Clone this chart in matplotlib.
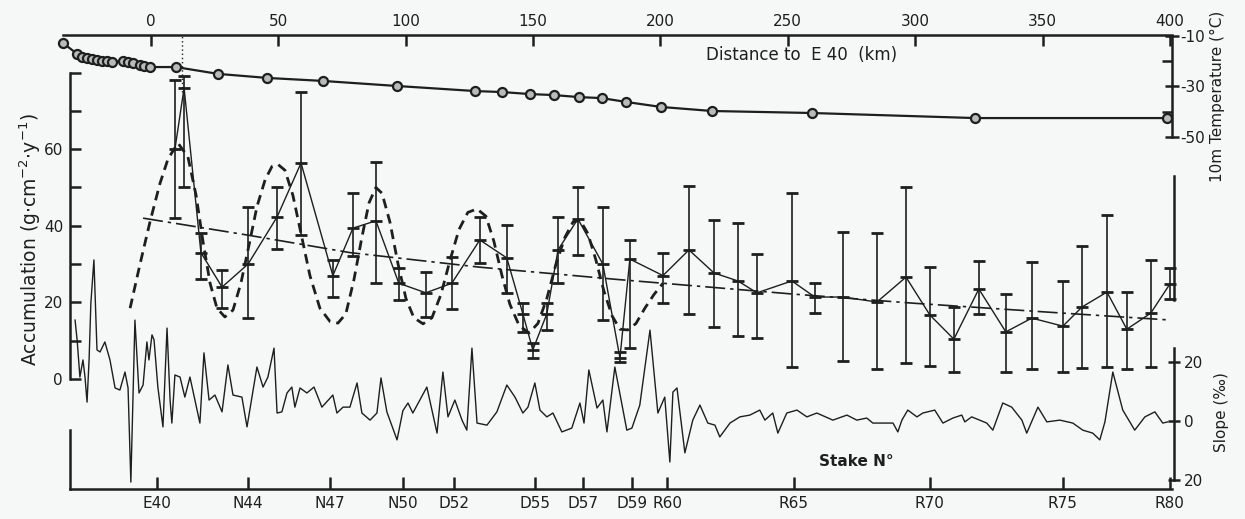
import matplotlib
matplotlib.use("Agg")
import matplotlib.pyplot as plt
import numpy as np

# ---- data ----
# 10 m temperature along the traverse (distance to E40 in km, deg C)
temp_km = [-34.5, -29.0, -27.1, -25.1, -23.2, -21.2, -19.2, -17.3, -15.3, -11.0,
           -9.0, -7.1, -4.3, -2.7, -0.4, 9.8, 26.3, 45.5, 67.5, 96.6,
           127.2, 137.8, 148.8, 158.2, 168.0, 177.0, 186.4, 200.2, 220.2, 259.5,
           323.5, 399.0]
temp_c = [-12.8, -17.1, -18.3, -18.7, -19.1, -19.5, -19.9, -19.9, -20.3, -19.9,
          -20.3, -20.7, -21.5, -21.9, -22.3, -22.3, -25.0, -26.6, -27.8, -29.8,
          -31.8, -32.2, -33.0, -33.4, -34.2, -34.6, -36.1, -38.1, -39.7, -40.5,
          -42.5, -42.5]

# accumulation at the stakes (value, lower and upper end of the bar)
acc_km = [9.4, 13.0, 19.6, 27.9, 38.1, 49.5, 58.9, 71.4, 79.3, 88.3,
          97.3, 107.9, 118.1, 129.1, 139.7, 146.0, 149.9, 155.4, 159.8, 167.6,
          177.4, 184.1, 188.0, 201.0, 211.2, 221.0, 230.4, 237.9, 251.6, 260.6,
          271.6, 285.0, 296.4, 305.8, 315.2, 325.0, 335.6, 345.8, 358.0, 365.5,
          375.3, 383.1, 392.5, 400.0]
acc_val = [60, 76, 33, 24, 30, 42.3, 56.4, 27, 39.4, 41.3,
           25, 22.5, 25, 36.3, 31.6, 17, 7.6, 17, 33.7, 41.8,
           30, 5.5, 31.3, 27, 33.7, 27.7, 25.6, 22.5, 25.6, 21.4,
           21.4, 20.1, 26.6, 16.7, 10.4, 23.5, 12.3, 15.9, 13.8, 18.8,
           22.7, 13, 17.2, 24.8]
acc_low = [42, 50, 26, 18.5, 16, 34, 37.6, 21.4, 32, 25,
           20.6, 16.2, 18.3, 30.3, 22.5, 12.3, 5.5, 12.8, 25, 32.4,
           15.4, 4.5, 8, 19.8, 17, 13.6, 11.2, 10.7, 3.1, 17.2,
           4.7, 2.6, 4.2, 3.4, 1.8, 17, 1.8, 2.6, 1.8, 2.9,
           3.1, 2.6, 3.1, 20.9]
acc_high = [78, 79, 38, 28.5, 45, 50, 75, 31, 48.5, 56.7,
            29, 28, 31.8, 42.3, 40.2, 19.8, 9.5, 19.8, 42.3, 50,
            45, 7, 36.3, 33, 50.4, 41.5, 40.7, 32.6, 48.6, 25,
            38.4, 38, 50, 29.2, 18.8, 30.8, 22.2, 30.5, 25.6, 34.7,
            42.8, 22.7, 31, 29]

# fitted oscillation (dashed)
wave_km = [-8.2, -4.3, -0.4, 3.5, 6.7, 10.6, 14.5, 17.7, 20.4, 23.2,
           25.9, 29.0, 32.2, 35.3, 38.5, 41.6, 44.8, 47.5, 49.9, 52.6,
           55.7, 58.9, 62.4, 66.3, 70.3, 73.4, 76.5, 79.7, 82.8, 85.6,
           88.3, 90.7, 93.8, 97.0, 100.1, 103.2, 106.8, 110.3, 113.8, 117.4,
           120.9, 124.4, 128.0, 131.5, 134.6, 137.8, 140.9, 144.5, 148.4, 151.9,
           155.4, 159.0, 162.5, 165.7, 168.4, 171.5, 174.7, 177.8, 181.0, 184.1,
           187.2, 190.4, 193.9, 197.4, 201.0]
wave_acc = [18.5, 30, 41, 51, 57.5, 61.6, 58, 48, 36, 25,
            18.5, 16.2, 18, 25, 35, 45, 52, 55.5, 56, 54.5,
            48, 38, 27, 18.5, 15, 14.6, 17, 26, 37, 46,
            50, 48.5, 41, 30, 21, 16, 14.4, 16, 22, 31,
            39, 43.5, 44.4, 42.5, 36, 27, 19.5, 14, 12, 14.5,
            21, 30, 37, 41, 41.5, 38, 31, 23, 16.5, 13,
            12.8, 14.5, 18.5, 22, 25]

# mean trend (dash-dot)
trend_km = [-3.1, 37.7, 78.1, 129.0, 182.9, 251.6, 299.1, 358.0, 400.0]
trend_acc = [42, 37.6, 33, 29.2, 26, 22.2, 19.8, 17.2, 15.4]

# surface slope profile (per mil)
slope_km = [-29.8, -29.0, -27.9, -26.7, -25.9, -25.1, -24.3, -23.6, -22.4, -21.2,
            -20.0, -18.1, -16.1, -14.1, -12.2, -10.2, -9.0, -7.9, -6.3, -4.7,
            -3.1, -1.6, -0.8, 0.4, 1.2, 2.7, 4.7, 6.3, 7.5, 8.2,
            9.4, 11.4, 13.3, 15.3, 19.2, 20.8, 22.8, 25.1, 27.9, 30.2,
            32.2, 35.7, 37.7, 41.6, 44.0, 45.9, 48.3, 49.5, 51.4, 53.4,
            55.3, 56.5, 58.5, 61.2, 64.0, 67.1, 71.4, 73.0, 75.4, 78.1,
            80.9, 82.8, 86.0, 88.7, 90.3, 92.6, 96.6, 98.9, 100.9, 102.8,
            108.3, 112.3, 114.6, 116.6, 119.3, 122.1, 124.0, 126.0, 128.0, 131.9,
            135.8, 139.7, 142.9, 146.0, 148.0, 150.7, 152.7, 155.4, 157.8, 161.3,
            165.2, 168.4, 170.0, 171.9, 175.1, 177.4, 179.0, 182.1, 186.8, 188.8,
            191.9, 195.9, 199.0, 201.7, 203.7, 204.9, 206.5, 209.6, 212.7, 215.5,
            218.6, 221.4, 223.3, 227.3, 231.2, 235.1, 239.0, 241.0, 244.1, 246.1,
            249.6, 253.6, 257.5, 261.4, 267.7, 273.2, 277.1, 281.0, 283.4, 291.3,
            293.2, 294.8, 297.1, 300.7, 303.0, 307.7, 310.9, 314.8, 318.3, 319.5,
            322.2, 328.1, 330.5, 334.4, 337.9, 341.9, 343.8, 348.2, 351.7, 356.8,
            361.9, 365.8, 369.7, 372.5, 374.5, 377.6, 381.5, 386.2, 390.2, 394.1,
            397.2, 399.2]
slope_val = [34.2, 27.5, 14.9, 20.7, 14.9, 6.4, 20.7, 40.0, 54.6, 24.1,
             23.4, 26.8, 20.7, 11.2, 10.5, 16.6, 11.2, -20.7, 34.2, 9.5,
             12.2, 26.8, 20.7, 29.2, 27.5, 11.5, -2.0, 31.5, 7.1, -0.7,
             15.6, 14.9, 8.1, 14.9, -0.7, 23.1, 7.1, 8.8, 3.1, 19.0,
             8.8, 8.1, -2.0, 18.3, 11.5, 14.9, 24.7, 2.7, 3.1, 9.5,
             11.5, 4.7, 11.2, 9.5, 11.5, 4.7, 8.8, 2.7, 4.7, 4.7,
             12.9, 2.7, 0.3, 2.7, 14.6, 3.1, -6.4, 3.5, 6.1, 2.7,
             11.5, -4.1, 16.6, 1.4, 7.1, 0.3, -3.1, 24.7, -0.7, -1.4,
             3.1, 12.2, 8.1, 2.7, 4.7, 12.9, 3.7, 1.4, 2.7, -3.7,
             -2.4, 6.1, -0.7, 17.3, 4.4, 7.1, -3.7, 18.3, -3.1, -2.4,
             5.4, 30.8, 2.7, 8.1, -13.9, 9.8, 11.2, -10.8, 0.3, 5.4,
             -0.7, -1.4, -5.4, -0.7, 1.4, 2.0, 3.7, 0.3, 2.7, -4.1,
             2.7, 3.7, 1.4, 2.7, 0.3, 2.0, 0.3, 1.0, -0.7, -0.7,
             -3.7, 0.3, 3.7, 1.4, 2.7, 3.7, -0.7, 1.0, 2.0, -0.3,
             1.4, -0.7, -3.1, 6.1, 4.7, 0.3, -4.1, 4.7, -0.3, 0.3,
             -0.7, -3.1, -4.1, -6.4, -0.3, 16.6, 3.7, -3.1, 1.4, 3.1,
             -0.7, -0.3]

stake_km = [2.4, 38.1, 70.3, 98.9, 118.9, 150.7, 169.6, 188.8, 202.6, 252.4,
            305.8, 358.0, 400.0]
stake_names = ["E40", "N44", "N47", "N50", "D52", "D55", "D57", "D59", "R60", "R65",
               "R70", "R75", "R80"]
dist_ticks = [0, 50, 100, 150, 200, 250, 300, 350, 400]
peak_km = 12

# ---- figure ----
ink = "#1e1e1e"
bg = "#f6f7f7"
plt.rcParams['font.family'] = ['DejaVu Sans']
plt.rcParams['text.color'] = ink
plt.rcParams['axes.edgecolor'] = ink
plt.rcParams['xtick.color'] = ink
plt.rcParams['ytick.color'] = ink

fig = plt.figure(figsize=(12.45, 5.19), dpi=100, facecolor=bg)
rect = [0.0506, 0.0578, 0.8907, 0.8748]
xlim = (-34.54, 400.8)
x_spine = -31.8

ax_t = fig.add_axes(rect)
ax_a = fig.add_axes(rect)
ax_s = fig.add_axes(rect)
for ax in (ax_t, ax_a, ax_s):
    ax.set_xlim(*xlim)
    ax.patch.set_visible(False)
    for sp in ax.spines.values():
        sp.set_visible(False)
        sp.set_linewidth(1.8)

# temperature panel (top axis + right scale)
ax_t.set_ylim(-189.4, -9.6)
ax_t.plot(temp_km, temp_c, color=ink, lw=1.6, marker='o', ms=6.5,
          mfc='#b9bbbb', mec=ink, mew=1.6, clip_on=False, zorder=5)
ax_t.spines['top'].set_visible(True)
ax_t.spines['right'].set_visible(True)
ax_t.spines['right'].set_bounds(-50, -10)
ax_t.xaxis.set_ticks_position('top')
ax_t.set_xticks(dist_ticks)
ax_t.set_xticklabels([str(d) for d in dist_ticks])
ax_t.tick_params(axis='x', direction='in', length=8, width=1.8, labelsize=11, pad=4)
ax_t.yaxis.set_ticks_position('right')
ax_t.set_yticks([-10, -30, -50])
ax_t.set_yticklabels(['-10', '-30', '-50'])
ax_t.set_yticks([-20, -40], minor=True)
ax_t.tick_params(axis='y', which='major', direction='inout', length=10, width=1.8,
                 labelsize=11, pad=1)
ax_t.tick_params(axis='y', which='minor', direction='in', length=7, width=1.8)

# accumulation panel
ax_a.set_ylim(-28.72, 89.82)
ax_a.spines['left'].set_visible(True)
ax_a.spines['left'].set_position(('data', x_spine))
ax_a.spines['left'].set_bounds(0, 80)
ax_a.spines['bottom'].set_visible(True)
ax_a.spines['bottom'].set_bounds(x_spine, xlim[1])
ax_a.spines['right'].set_visible(True)
ax_a.spines['right'].set_position(('data', 401.5))
ax_a.spines['right'].set_bounds(20.5, 53)
ax_a.set_yticks(np.arange(0, 90, 10))
ax_a.set_yticklabels(['0', '', '20', '', '40', '', '60', '', ''])
ax_a.tick_params(axis='y', direction='in', length=8, width=1.8, labelsize=11, pad=5)
ax_a.set_xticks(stake_km)
ax_a.set_xticklabels(stake_names)
ax_a.tick_params(axis='x', direction='in', length=9, width=1.8, labelsize=11, pad=5)

acc_val_a = np.array(acc_val)
yerr = [acc_val_a - np.array(acc_low), np.array(acc_high) - acc_val_a]
ax_a.errorbar(acc_km, acc_val, yerr=yerr, color=ink, lw=1.0, elinewidth=1.2,
              capsize=4, capthick=2.2, marker='_', ms=8, mew=2.0, clip_on=False)
ax_a.plot(wave_km, wave_acc, color=ink, lw=2.0, dashes=(3.5, 2.2))
ax_a.plot(trend_km, trend_acc, color=ink, lw=1.2, dashes=(12, 3, 2, 3))
ax_a.axvline(peak_km, ymin=0.874, ymax=1.0, color=ink, lw=1.0, ls=(0, (1, 2)))

# slope panel
ax_s.set_ylim(-23.05, 130.85)
ax_s.plot(slope_km, slope_val, color=ink, lw=1.0)
ax_s.spines['right'].set_visible(True)
ax_s.spines['right'].set_position(('data', 401.5))
ax_s.spines['right'].set_bounds(-20, 24.7)
ax_s.spines['left'].set_visible(True)
ax_s.spines['left'].set_position(('data', x_spine))
ax_s.spines['left'].set_bounds(-23.05, -3)
ax_s.set_xticks([])
ax_s.yaxis.set_ticks_position('right')
ax_s.set_yticks([-20, 0, 20])
ax_s.set_yticklabels(['20', '0', '20'])
ax_s.tick_params(axis='y', direction='inout', length=9, width=1.8, labelsize=11, pad=3)

# text
fig.text(0.644, 0.894, "Distance to  E 40  (km)", ha='center', va='center', fontsize=12)
fig.text(0.688, 0.110, "Stake N\u00b0", ha='center', va='center', fontsize=11,
         fontweight='bold')
fig.text(0.0241, 0.5376, "Accumulation (g$\\cdot$cm$^{-2}$$\\cdot$y$^{-1}$)",
         rotation=90, ha='center', va='center', fontsize=13.5)
fig.text(0.978, 0.815, "10m Temperature (\u00b0C)", rotation=90, ha='center',
         va='center', fontsize=11)
fig.text(0.9815, 0.206, "Slope (\u2030)", rotation=90, ha='center', va='center',
         fontsize=11)

fig.savefig("out.png", dpi=100, facecolor=bg)
